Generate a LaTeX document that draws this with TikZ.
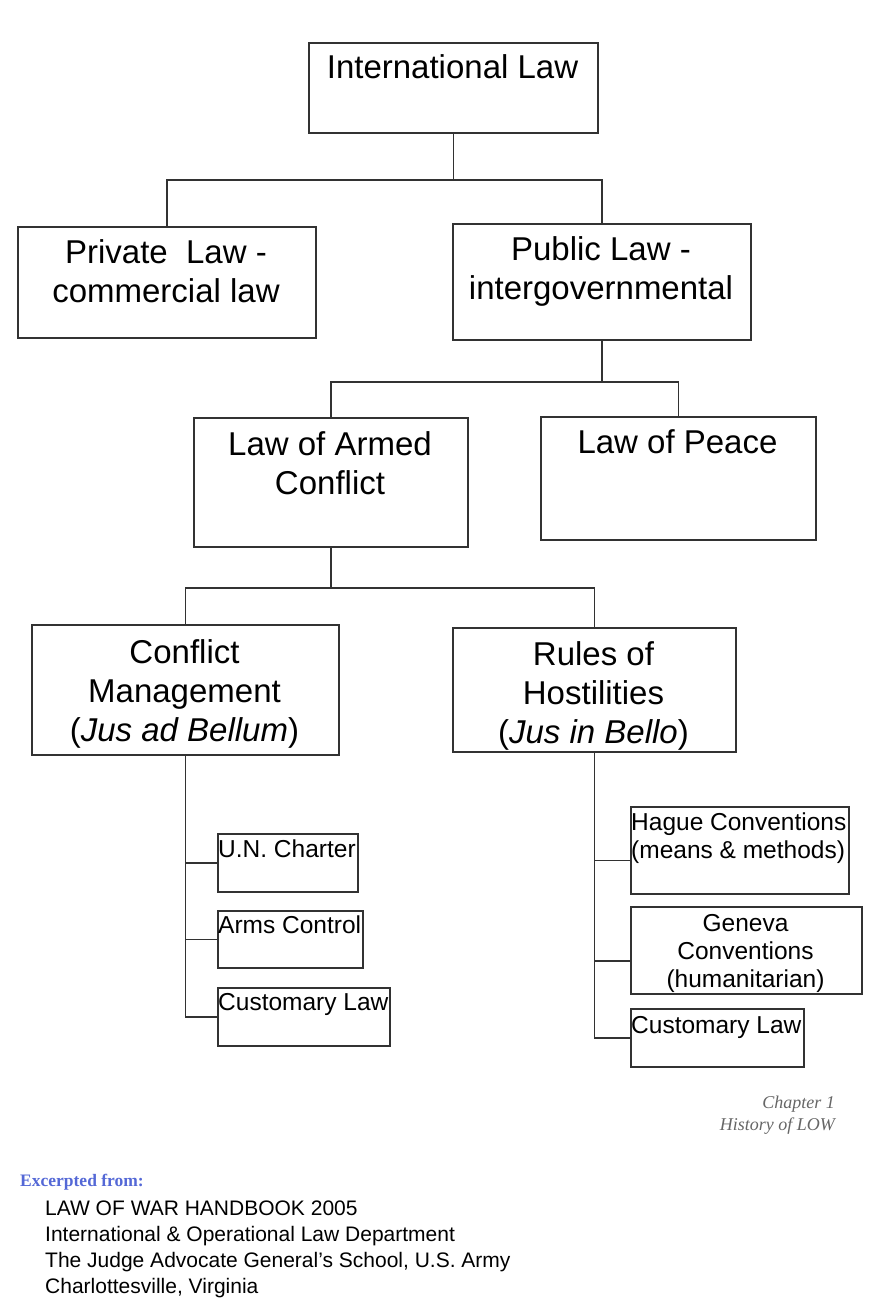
\documentclass[tikz,border=0pt]{standalone}
\usepackage{fontspec}
\setmainfont{Liberation Sans}
\newfontfamily\serifface{Liberation Serif}
\definecolor{linegray}{RGB}{50,50,50}
\definecolor{exblue}{RGB}{84,104,214}
\begin{document}
\begin{tikzpicture}[x=1pt,y=-1pt,
  box/.style={draw=linegray, line width=1.8pt, rectangle, anchor=north west, inner sep=0pt},
  conn/.style={draw=linegray, line width=1.8pt},
  big/.style={font=\fontsize{33}{39}\selectfont, align=center, anchor=base, inner sep=0pt},
  small/.style={font=\fontsize{24.5}{28}\selectfont, align=left, anchor=base west, inner sep=0pt},
  smallc/.style={font=\fontsize{24.5}{28}\selectfont, align=center, anchor=base, inner sep=0pt}]
\useasboundingbox (0,0) rectangle (880,1300);
% boxes
\node[box, minimum width=289pt, minimum height=90pt] (il) at (308,42) {};
\node[box, minimum width=298pt, minimum height=111pt] (priv) at (17,226) {};
\node[box, minimum width=298pt, minimum height=116pt] (pub) at (452,223) {};
\node[box, minimum width=274pt, minimum height=129pt] (lac) at (193,417) {};
\node[box, minimum width=275pt, minimum height=123pt] (lop) at (540,416) {};
\node[box, minimum width=307pt, minimum height=130pt] (cm) at (31,624) {};
\node[box, minimum width=283pt, minimum height=124pt] (rh) at (452,627) {};
\node[box, minimum width=140pt, minimum height=58pt] (un) at (217,833) {};
\node[box, minimum width=145pt, minimum height=57pt] (arms) at (217,910) {};
\node[box, minimum width=172pt, minimum height=58pt] (custa) at (217,987) {};
\node[box, minimum width=218pt, minimum height=87pt] (hague) at (630,806) {};
\node[box, minimum width=231pt, minimum height=87pt] (geneva) at (630,906) {};
\node[box, minimum width=173pt, minimum height=58pt] (custb) at (630,1008) {};
% texts (multi-line nodes: base = baseline of last line)
\node[big] (ilt) at (452.5,79) {International Law};
\node[big] (privt) at (166,302) {Private\ \ Law -\\commercial law};
\node[big] (pubt) at (601,299) {Public Law -\\intergovernmental};
\node[big] (lact) at (330,494) {Law of Armed\\Conflict};
\node[big] (lopt) at (677.5,453) {Law of Peace};
\node[big] (cmt) at (184.5,741) {Conflict\\Management\\(\textit{Jus ad Bellum})};
\node[big] (rht) at (593.5,743) {Rules of\\Hostilities\\(\textit{Jus in Bello})};
\node[small] (unt) at (218,857) {U.N. Charter};
\node[small] (armst) at (218,933) {Arms Control};
\node[small] (custat) at (218,1010) {Customary Law};
\node[small] (haguet) at (631,858) {Hague Conventions\\(means \& methods)};
\node[smallc] (genevat) at (745.5,987) {Geneva\\Conventions\\(humanitarian)};
\node[small] (custbt) at (631,1033) {Customary Law};
% connectors
\draw[conn] (il.south) -- ++(0,46) -| (priv.north);
\draw[conn] (il.south) -- ++(0,46) -| (pub.north);
\draw[conn] (pub.south) -- ++(0,41) -| (lac.north);
\draw[conn] (pub.south) -- ++(0,41) -| (lop.north);
\draw[conn] (lac.south) -- ++(0,40) -| (cm.north);
\draw[conn] (lac.south) -- ++(0,40) -| (rh.north);
\draw[conn] (cm.south) |- (un.west);
\draw[conn] (cm.south) |- (arms.west);
\draw[conn] (cm.south) |- (custa.west);
\draw[conn] (rh.south) |- ([yshift=-10pt]hague.west);
\draw[conn] (rh.south) |- ([yshift=-10.5pt]geneva.west);
\draw[conn] (rh.south) |- (custb.west);
% footer
\node[font=\serifface\itshape\fontsize{18}{22}\selectfont, text=black!60, align=right, anchor=base east, inner sep=0pt] (chap) at (835,1130) {Chapter 1\\History of LOW};
\node[font=\serifface\bfseries\fontsize{17.5}{20}\selectfont, text=exblue, anchor=base west, inner sep=0pt] (exc) at (20,1186) {Excerpted from:};
\node[font=\fontsize{21}{26}\selectfont, align=left, anchor=base west, inner sep=0pt] (src) at (45,1293) {LAW OF WAR HANDBOOK 2005\\International \& Operational Law Department\\The Judge Advocate General\char"27 s School, U.S. Army\\Charlottesville, Virginia};
\end{tikzpicture}
\end{document}
